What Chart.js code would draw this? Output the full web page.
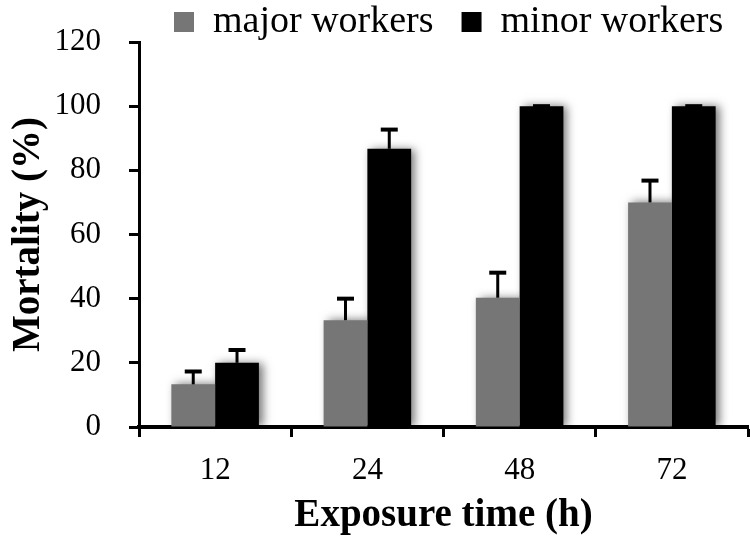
<!DOCTYPE html>
<html lang="en">
<head>
    <meta charset="UTF-8">
    <title>Mortality</title>
    <style>
        body { margin: 0; background: #fff; }
        #box { width: 750px; height: 539px; }
    </style>
</head>
<body>
    <div id="box">
        <canvas id="mortalityChart" width="750" height="539"></canvas>
    </div>
    <script src="https://cdn.jsdelivr.net/npm/chart.js"></script>
    <script>

        const categories = ['12', '24', '48', '72'];
        const majorValues = [13.3, 33.3, 40.3, 70];
        const majorErrors = [4, 6.7, 7.8, 6.8];
        const minorValues = [20, 86.7, 100, 100];
        const minorErrors = [4, 6, 0, 0];
        const yMin = 0;
        const yMax = 120;
        const yStep = 20;

        const serif = "'Liberation Serif', 'DejaVu Serif', serif";

        // soft shadow behind the bars
        const barShadow = {
            id: 'barShadow',
            beforeDatasetsDraw(chart) {
                const ctx = chart.ctx;
                ctx.save();
                ctx.shadowColor = 'rgba(0, 0, 0, 0.55)';
                ctx.shadowBlur = 9;
                ctx.shadowOffsetX = 4;
                ctx.shadowOffsetY = 0;
            },
            afterDatasetsDraw(chart) {
                chart.ctx.restore();
            }
        };

        // upper error bars only
        const errorBars = {
            id: 'errorBars',
            afterDatasetsDraw(chart) {
                const ctx = chart.ctx;
                const yScale = chart.scales.y;
                ctx.save();
                ctx.strokeStyle = '#000';
                chart.data.datasets.forEach((ds, i) => {
                    const meta = chart.getDatasetMeta(i);
                    meta.data.forEach((bar, j) => {
                        const top = yScale.getPixelForValue(ds.data[j] + ds.errors[j]);
                        ctx.lineWidth = 3;
                        ctx.beginPath();
                        ctx.moveTo(bar.x, bar.y);
                        ctx.lineTo(bar.x, top);
                        ctx.stroke();
                        ctx.lineWidth = 4;
                        ctx.beginPath();
                        ctx.moveTo(bar.x - 8.5, top);
                        ctx.lineTo(bar.x + 8.5, top);
                        ctx.stroke();
                    });
                });
                ctx.restore();
            }
        };

        // place the legend box (the legend clips to its own box)
        const legendShift = {
            id: 'legendShift',
            afterLayout(chart) {
                const lg = chart.legend;
                lg.left = 146;
                lg.right = 820;
                lg.top = -25;
                lg.bottom = 44;
            }
        };

        const ctx = document.getElementById('mortalityChart');

        let mortalityChart = new Chart(ctx, {
            type: 'bar',
            data: {
                labels: categories,
                datasets: [{
                    label: 'major workers',
                    data: majorValues,
                    errors: majorErrors,
                    backgroundColor: '#767676',
                    borderWidth: 0
                }, {
                    label: 'minor workers',
                    data: minorValues,
                    errors: minorErrors,
                    backgroundColor: '#000000',
                    borderWidth: 0
                }]
            },
            options: {
                responsive: false,
                animation: false,
                categoryPercentage: 0.575,
                barPercentage: 1.0,
                layout: {
                    padding: { top: 0, right: 2, left: 0, bottom: 0 }
                },
                plugins: {
                    tooltip: { enabled: false },
                    legend: {
                        position: 'top',
                        align: 'start',
                        maxHeight: 42,
                        labels: {
                            boxWidth: 20,
                            boxHeight: 20,
                            padding: 28,
                            color: '#000',
                            font: { family: serif, size: 38 }
                        }
                    }
                },
                scales: {
                    x: {
                        afterFit: s => { s.height = 112; },
                        grid: {
                            drawOnChartArea: false,
                            drawTicks: true,
                            tickLength: 10,
                            tickWidth: 3,
                            tickColor: '#000'
                        },
                        border: { color: '#000', width: 4 },
                        ticks: {
                            color: '#000',
                            padding: 15,
                            font: { family: serif, size: 31 }
                        },
                        title: {
                            display: true,
                            text: 'Exposure time (h)',
                            color: '#000',
                            padding: { top: 0, bottom: 0 },
                            font: { family: serif, size: 39, weight: 'bold' }
                        }
                    },
                    y: {
                        min: yMin,
                        max: yMax,
                        afterFit: s => {
                            s.width = 139;
                            s.paddingTop = 20;
                        },
                        grid: {
                            drawOnChartArea: false,
                            drawTicks: true,
                            tickLength: 10,
                            tickWidth: 3,
                            tickColor: '#000'
                        },
                        border: { color: '#000', width: 3 },
                        ticks: {
                            stepSize: yStep,
                            color: '#000',
                            padding: 28,
                            font: { family: serif, size: 31 }
                        },
                        title: {
                            display: true,
                            text: 'Mortality (%)',
                            color: '#000',
                            padding: { top: 6, bottom: 0 },
                            font: { family: serif, size: 39, weight: 'bold' }
                        }
                    }
                }
            },
            plugins: [barShadow, errorBars, legendShift]
        });

    </script>
</body>
</html>
